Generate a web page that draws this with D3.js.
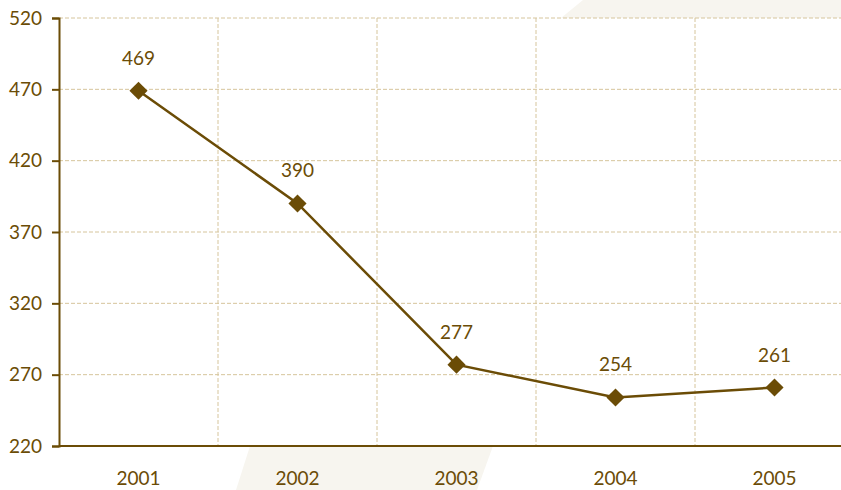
<!DOCTYPE html>
<html><head><meta charset="utf-8">
<script src="https://cdn.jsdelivr.net/npm/d3@7"></script>
<style>body{margin:0;background:#fff}text{font-family:Lato,"Open Sans",sans-serif}</style>
</head><body>
<svg id="c" width="841" height="490"></svg>
<script>
const years = ["2001","2002","2003","2004","2005"];
const values = [469, 390, 277, 254, 261];
const yTicks = [220, 270, 320, 370, 420, 470, 520];

const W = 841, H = 490;
const m = {left: 59, top: 18, bottom: 446};
const band = 159;
const svg = d3.select("#c");
const dark = "#6b4c06", grid = "#d6c59c";

// faint background watermark
svg.append("polygon").attr("points", "583,0 841,0 841,18 561,18").attr("fill", "#f7f5ef");
svg.append("polygon").attr("points", "250,446 493,446 477,490 236,490").attr("fill", "#f7f5ef");

const x = d3.scaleBand().domain(years).range([m.left, m.left + band * years.length]).paddingInner(0).paddingOuter(0);
const y = d3.scaleLinear().domain([220, 520]).range([m.bottom, m.top]);

// grid horizontal
svg.append("g").selectAll("line").data(yTicks.slice(1)).join("line")
  .attr("x1", m.left).attr("x2", W).attr("y1", d => y(d)).attr("y2", d => y(d))
  .attr("stroke", grid).attr("stroke-width", 1).attr("stroke-dasharray", "4,2");
// grid vertical
svg.append("g").selectAll("line").data(years.slice(1)).join("line")
  .attr("x1", d => x(d)).attr("x2", d => x(d)).attr("y1", m.top).attr("y2", m.bottom)
  .attr("stroke", grid).attr("stroke-width", 1).attr("stroke-dasharray", "4,2");

// y axis
const ya = svg.append("g").attr("transform", `translate(${m.left},0)`)
  .call(d3.axisLeft(y).tickValues(yTicks).tickSize(7).tickPadding(10));
ya.select(".domain").attr("stroke", dark).attr("stroke-width", 2);
ya.selectAll(".tick line").attr("stroke", dark).attr("stroke-width", 2);
ya.selectAll("text").attr("fill", dark).style("font-size", "19px").style("font-family", "Lato, sans-serif");

// x axis
const xa = svg.append("g").attr("transform", `translate(0,${m.bottom})`)
  .call(d3.axisBottom(x).tickSize(0).tickPadding(26));
xa.select(".domain").attr("stroke", dark).attr("stroke-width", 2).attr("d", `M${m.left},0H${W}`);
xa.selectAll("text").attr("fill", dark).style("font-size", "19px").style("font-family", "Lato, sans-serif");

const cx = d => x(d) + x.bandwidth() / 2;
const data = years.map((d, i) => ({year: d, v: values[i]}));

svg.append("path").datum(data)
  .attr("d", d3.line().x(d => cx(d.year)).y(d => y(d.v)))
  .attr("fill", "none").attr("stroke", dark).attr("stroke-width", 2.5);

svg.append("g").selectAll("path").data(data).join("path")
  .attr("d", d3.symbol().type(d3.symbolDiamond2).size(210))
  .attr("transform", d => `translate(${cx(d.year)},${y(d.v)})`)
  .attr("fill", dark);

svg.append("g").selectAll("text").data(data).join("text")
  .attr("x", d => cx(d.year)).attr("y", d => y(d.v) - 26)
  .attr("text-anchor", "middle").attr("fill", dark)
  .style("font-size", "19px").text(d => d.v);
</script>
</body></html>
